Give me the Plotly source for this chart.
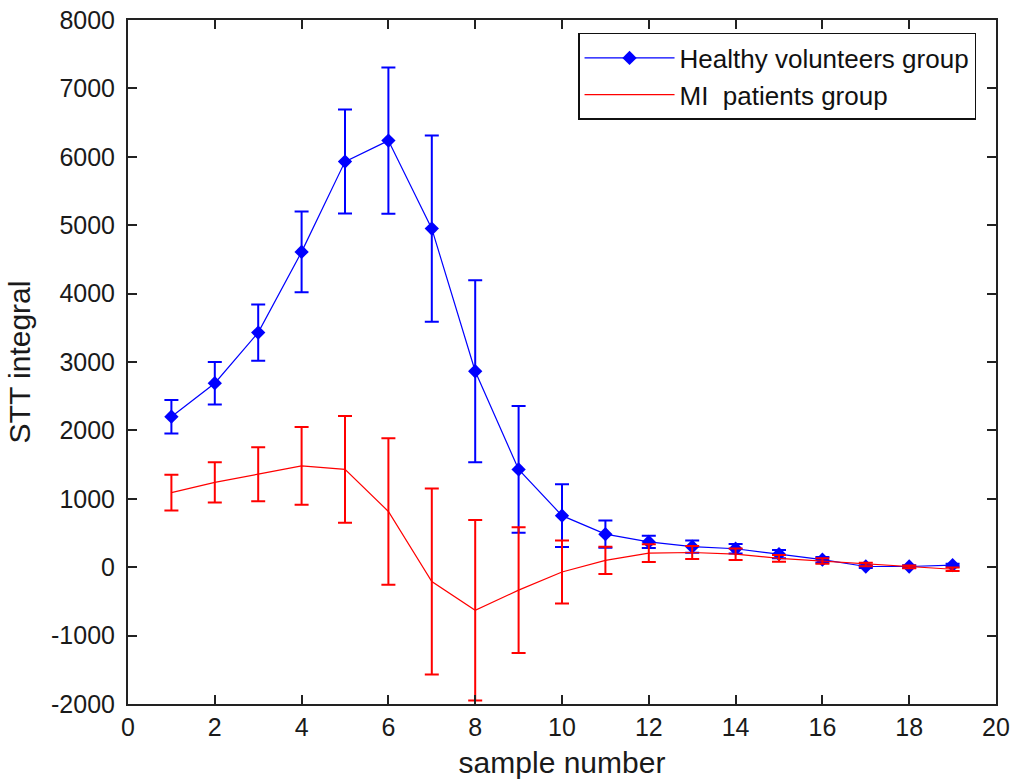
import plotly.graph_objects as go

samples = list(range(1, 20))
healthy_mean = [2200, 2690, 3430, 4610, 5930, 6237, 4950, 2865, 1430, 754, 483, 370, 300, 270, 190, 110, 10, 10, 30]
healthy_err = [245, 310, 410, 590, 760, 1070, 1360, 1330, 925, 457, 200, 90, 90, 70, 60, 40, 20, 20, 20]
mi_mean = [1090, 1240, 1360, 1480, 1430, 815, -210, -630, -335, -70, 100, 205, 215, 190, 130, 90, 40, 5, -30]
mi_err = [260, 293, 395, 568, 780, 1070, 1360, 1320, 920, 460, 200, 130, 95, 85, 50, 40, 25, 20, 25]

x_ticks = list(range(0, 21, 2))
y_ticks = list(range(-2000, 8001, 1000))
y_ticktext = [str(v) for v in y_ticks]

fig = go.Figure()
fig.add_trace(go.Scatter(
    x=samples, y=healthy_mean, mode="lines+markers", name="Healthy volunteers group",
    line=dict(color="#0000ff", width=1.2),
    marker=dict(symbol="diamond", size=11, color="#0000ff"),
    error_y=dict(type="data", array=healthy_err, visible=True, color="#0000ff", thickness=2, width=7),
))
fig.add_trace(go.Scatter(
    x=samples, y=mi_mean, mode="lines", name="MI  patients group",
    line=dict(color="#ff0000", width=1.2),
    error_y=dict(type="data", array=mi_err, visible=True, color="#ff0000", thickness=2, width=7),
))

tick_font = dict(family="Liberation Sans, Arial", size=25, color="#1a1a1a")
title_font = dict(family="Liberation Sans, Arial", size=30, color="#1a1a1a")
axis_common = dict(
    showgrid=False, zeroline=False, showline=True, linecolor="#222", linewidth=2,
    mirror="ticks", ticks="inside", ticklen=9, tickcolor="#222", tickwidth=1.8,
    tickfont=tick_font, automargin=False, ticklabeloverflow="allow",
)
fig.update_xaxes(range=[0, 20], tickvals=x_ticks, ticktext=[str(v) for v in x_ticks],
                 ticklabelstandoff=0,
                 title=dict(text="sample number", standoff=12, font=title_font),
                 **axis_common)
fig.update_yaxes(range=[-2000, 8000], tickvals=y_ticks, ticktext=y_ticktext,
                 ticklabelstandoff=6,
                 title=dict(text="STT integral", standoff=12, font=title_font),
                 **axis_common)

fig.update_layout(
    width=1011, height=780,
    margin=dict(l=128, r=15, t=20, b=76),
    plot_bgcolor="white", paper_bgcolor="white",
    legend=dict(x=0.977, y=0.981, xanchor="right", yanchor="top",
                bordercolor="#111", borderwidth=1.5, bgcolor="white",
                font=dict(family="Liberation Sans, Arial", size=26, color="#111"),
                tracegroupgap=0, itemwidth=90),
    showlegend=True,
)
fig.write_html("out.html",
               config={"displayModeBar": False},
               post_script="document.body.style.margin='0';document.body.style.overflow='hidden';")
